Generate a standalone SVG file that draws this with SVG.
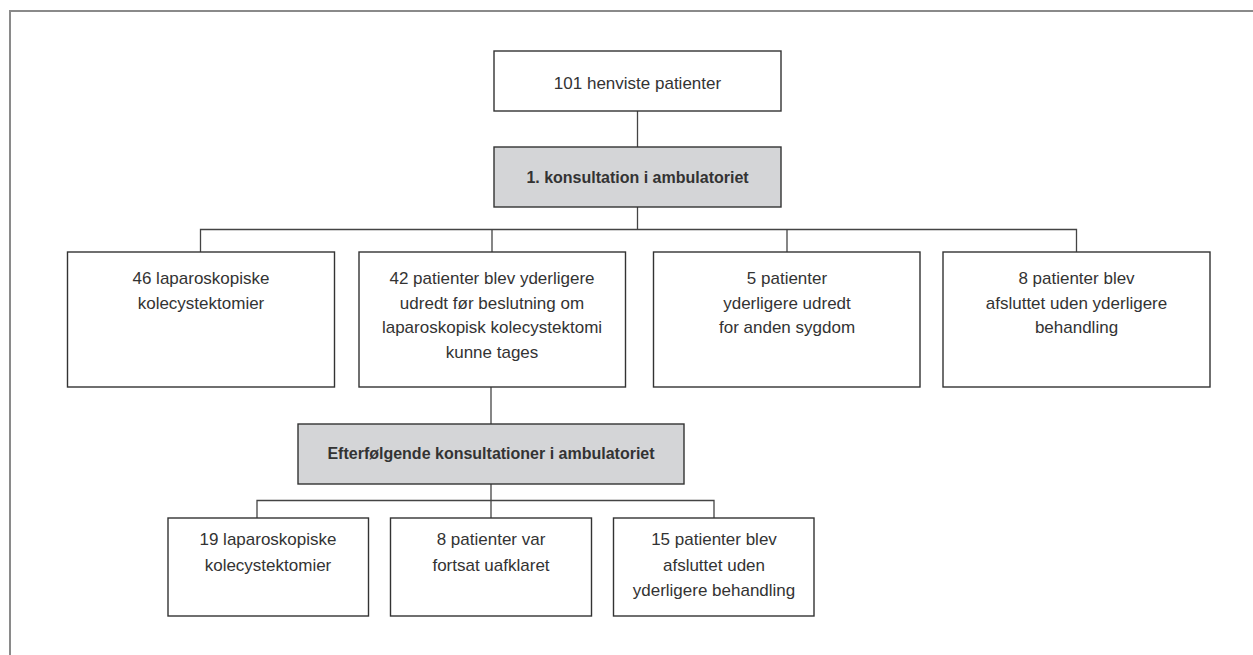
<svg xmlns="http://www.w3.org/2000/svg" width="1253" height="655" viewBox="0 0 1253 655">
<style>
.box{fill:#fff;stroke:#333;stroke-width:1.4}
.gbox{fill:#d4d5d7;stroke:#333;stroke-width:1.4}
.t{font-family:"Liberation Sans",Arial,sans-serif;font-size:17px;fill:#333;text-anchor:middle}
.b{font-family:"Liberation Sans",Arial,sans-serif;font-size:16px;font-weight:bold;fill:#333;text-anchor:middle}
.c{stroke:#444;stroke-width:1.3;fill:none}
</style>
<rect x="0" y="0" width="1253" height="655" fill="#fff"/>
<path d="M10,655 V11 H1253" fill="none" stroke="#8a8a8a" stroke-width="2"/>
<g id="connectors">
<path class="c" d="M637.5,111 V147"/>
<path class="c" d="M637.5,207 V229.5"/>
<path class="c" d="M200.5,252 V229.5 H1076.5 V252"/>
<path class="c" d="M492,229.5 V252"/>
<path class="c" d="M787,229.5 V252"/>
<path class="c" d="M491,387 V424"/>
<path class="c" d="M491,484 V518"/>
<path class="c" d="M257,518 V500.5 H714 V518"/>
</g>
<g id="n1"><rect class="box" x="494" y="51" width="287" height="60"/><text class="t" x="637.5" y="89">101 henviste patienter</text></g>
<g id="n2"><rect class="gbox" x="494" y="147" width="287" height="60"/><text class="b" x="637.5" y="182.5">1. konsultation i ambulatoriet</text></g>
<g id="n3"><rect class="box" x="67.5" y="252" width="267" height="135"/><text class="t" x="201" y="284">46 laparoskopiske<tspan x="201" dy="24.5">kolecystektomier</tspan></text></g>
<g id="n4"><rect class="box" x="359" y="252" width="266.5" height="135"/><text class="t" x="492" y="284">42 patienter blev yderligere<tspan x="492" dy="24.5">udredt før beslutning om</tspan><tspan x="492" dy="24.5">laparoskopisk kolecystektomi</tspan><tspan x="492" dy="24.5">kunne tages</tspan></text></g>
<g id="n5"><rect class="box" x="653.5" y="252" width="266.5" height="135"/><text class="t" x="787" y="284">5 patienter<tspan x="787" dy="24.5">yderligere udredt</tspan><tspan x="787" dy="24.5">for anden sygdom</tspan></text></g>
<g id="n6"><rect class="box" x="943" y="252" width="267" height="135"/><text class="t" x="1076.5" y="284">8 patienter blev<tspan x="1076.5" dy="24.5">afsluttet uden yderligere</tspan><tspan x="1076.5" dy="24.5">behandling</tspan></text></g>
<g id="n7"><rect class="gbox" x="298" y="424" width="386" height="60"/><text class="b" x="491" y="459">Efterfølgende konsultationer i ambulatoriet</text></g>
<g id="n8"><rect class="box" x="168" y="518" width="200.5" height="98"/><text class="t" x="268" y="545">19 laparoskopiske<tspan x="268" dy="25.5">kolecystektomier</tspan></text></g>
<g id="n9"><rect class="box" x="390.5" y="518" width="201" height="98"/><text class="t" x="491" y="545">8 patienter var<tspan x="491" dy="25.5">fortsat uafklaret</tspan></text></g>
<g id="n10"><rect class="box" x="613.5" y="518" width="200.5" height="98"/><text class="t" x="714" y="545">15 patienter blev<tspan x="714" dy="25.5">afsluttet uden</tspan><tspan x="714" dy="25.5">yderligere behandling</tspan></text></g>
</svg>
